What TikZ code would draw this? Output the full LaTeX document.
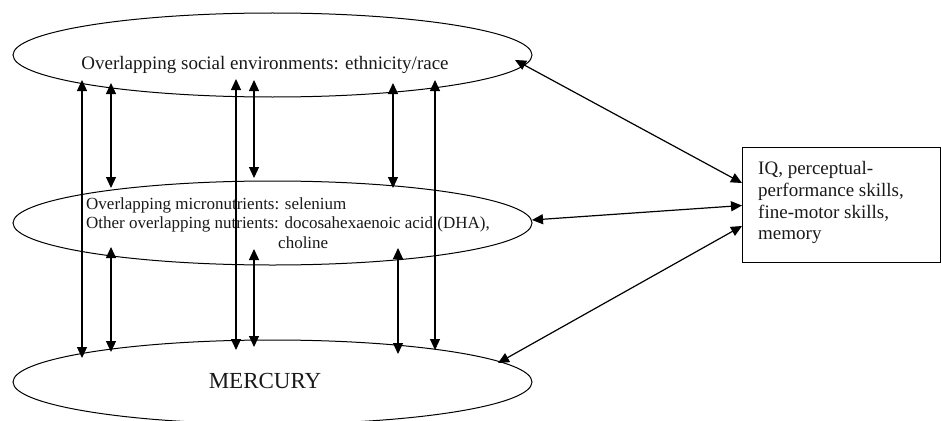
\documentclass[tikz,border=0pt]{standalone}
\usepackage{fontspec}
\setmainfont{Liberation Serif}
\usetikzlibrary{arrows.meta,shapes.geometric}
\tikzset{
  oval/.style={draw, ellipse, line width=1pt, minimum width=519pt, minimum height=84pt, inner sep=0pt},
  conn/.style={{Triangle[length=11pt,width=10pt]}-{Triangle[length=11pt,width=10pt]}, line width=1.2pt},
  lbl/.style={inner sep=0pt, text=black!90}
}
\begin{document}
\begin{tikzpicture}[x=1pt,y=-1pt]
\useasboundingbox (0,0) rectangle (941,420);
% ellipses
\node[oval] (social) at (272.5,55) {};
\node[oval] (nutr) at (272.5,223) {};
\node[oval] (merc) at (272.5,382) {};
% texts
\node[lbl, anchor=base, font=\fontsize{19}{22}\selectfont] (tsocial) at (265,69) {Overlapping social environments: ethnicity/race};
\node[lbl, anchor=north west, align=left, font=\fontsize{17}{19.5}\selectfont] (tnutr) at (86,197.5)
  {Overlapping micronutrients: selenium\\Other overlapping nutrients: docosahexaenoic acid (DHA),\\\hspace*{192pt}choline};
\node[lbl, anchor=base, font=\fontsize{23}{26}\selectfont] (tmerc) at (265,388) {MERCURY};
% outcome box
\node[draw, line width=1pt, anchor=north west, minimum width=198pt, minimum height=115pt, inner sep=0pt] (box) at (742,147) {};
\node[lbl, anchor=north west, align=left, font=\fontsize{19}{21.7}\selectfont] (tbox) at (758,161.5)
  {IQ, perceptual-\\performance skills,\\fine-motor skills,\\memory};
% connector end points
\coordinate (s82) at (82,80);   \coordinate (m82) at (82,358);
\coordinate (s236) at (236,79); \coordinate (m236) at (236,350);
\coordinate (s435) at (435,80); \coordinate (m435) at (435,350);
\coordinate (s111) at (111,83); \coordinate (n111t) at (111,188);
\coordinate (s254) at (254,80); \coordinate (n254t) at (254,178);
\coordinate (s393) at (393,83); \coordinate (n393t) at (393,188);
\coordinate (n111b) at (111,247); \coordinate (m111) at (111,352);
\coordinate (n254b) at (254,249); \coordinate (m254) at (254,347);
\coordinate (n398b) at (398,248); \coordinate (m398) at (398,354);
\coordinate (sR) at (515,60);  \coordinate (b1) at (742,183);
\coordinate (nR) at (532,220); \coordinate (b2) at (742,205.5);
\coordinate (mR) at (498,363); \coordinate (b3) at (742,226);
% vertical connectors
\draw[conn] (s82) -- (m82);
\draw[conn] (s236) -- (m236);
\draw[conn] (s435) -- (m435);
\draw[conn] (s111) -- (n111t);
\draw[conn] (s254) -- (n254t);
\draw[conn] (s393) -- (n393t);
\draw[conn] (n111b) -- (m111);
\draw[conn] (n254b) -- (m254);
\draw[conn] (n398b) -- (m398);
% connectors to the box
\draw[conn] (sR) -- (b1);
\draw[conn] (nR) -- (b2);
\draw[conn] (mR) -- (b3);
\end{tikzpicture}
\end{document}
